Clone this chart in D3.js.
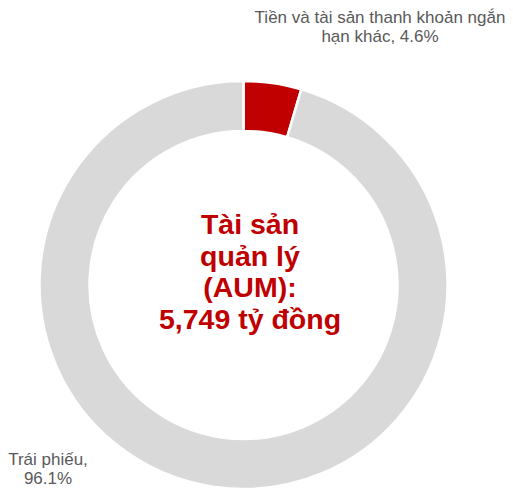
<!DOCTYPE html>
<html>
<head>
<meta charset="utf-8">
<script src="https://cdn.jsdelivr.net/npm/d3@7"></script>
<style>
  body { margin: 0; background: #fff; }
  text { font-family: Arial, "Liberation Sans", sans-serif; }
</style>
</head>
<body>
<div id="chart"></div>
<script>
// data
var categories = ["Tiền và tài sản thanh khoản ngắn hạn khác", "Trái phiếu"];
var values = [4.6, 96.1];
var labelLines = [["Tiền và tài sản thanh khoản ngắn", "hạn khác, 4.6%"], ["Trái phiếu,", "96.1%"]];
var centerLines = ["Tài sản", "quản lý", "(AUM):", "5,749 tỷ đồng"];

var width = 513, height = 490;
var cx = 243.5, cy = 285,
    outerR = 204, innerR = 154;

var svg = d3.select("#chart")
  .append("svg")
  .attr("width", width)
  .attr("height", height);

var color = d3.scaleOrdinal()
  .domain(categories)
  .range(["#c00000", "#d9d9d9"]);

var pie = d3.pie()
  .sort(null)
  .value(function(d) { return d; });

var arc = d3.arc()
  .innerRadius(innerR)
  .outerRadius(outerR);

var g = svg.append("g")
  .attr("transform", "translate(" + cx + "," + cy + ")");

g.selectAll("path.slice")
  .data(pie(values))
  .enter()
  .append("path")
  .attr("class", "slice")
  .attr("d", arc)
  .style("fill", function(d, i) { return color(categories[i]); })
  .style("stroke", "#fff")
  .style("stroke-width", 2.5);

// slice labels
var labelPos = [{x: 380, y: 23}, {x: 48, y: 465}];
labelLines.forEach(function(lines, i) {
  var t = svg.append("text")
    .attr("x", labelPos[i].x)
    .attr("y", labelPos[i].y)
    .style("text-anchor", "middle")
    .style("font-size", "17px")
    .style("fill", "#595959");
  lines.forEach(function(l, j) {
    t.append("tspan")
      .attr("x", labelPos[i].x)
      .attr("dy", j == 0 ? 0 : 18.5)
      .text(l);
  });
});

// center title
var ct = svg.append("text")
  .attr("x", 250)
  .attr("y", 234)
  .style("text-anchor", "middle")
  .style("font-size", "28.5px")
  .style("font-weight", "bold")
  .style("fill", "#c00000");
centerLines.forEach(function(l, j) {
  ct.append("tspan")
    .attr("x", 250)
    .attr("dy", j == 0 ? 0 : 31.5)
    .text(l);
});
</script>
</body>
</html>
